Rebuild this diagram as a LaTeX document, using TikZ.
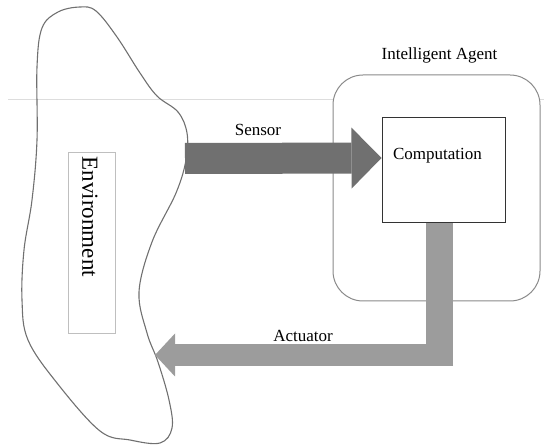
\documentclass[tikz,border=0pt]{standalone}
\usepackage{fontspec}
\setmainfont{Liberation Serif}
\usetikzlibrary{arrows.meta,calc}
\definecolor{blobline}{HTML}{707070}
\definecolor{agentline}{HTML}{8A8A8A}
\definecolor{sensorfill}{HTML}{707070}
\definecolor{actfill}{HTML}{9C9C9C}
\definecolor{guide}{HTML}{DDDDDD}
\tikzset{
  lbl/.style={font=\fontsize{17}{20}\selectfont, inner sep=0pt},
  agentbox/.style={draw=agentline, line width=1pt, fill=white, rounded corners=30pt},
  compbox/.style={draw=black!80, line width=1pt, fill=white},
  envbox/.style={draw=black!25, line width=0.8pt},
  sensorarrow/.style={draw=sensorfill, line width=31pt,
    -{Triangle[length=30pt,width=61pt,line width=0pt]}},
  actbar/.style={draw=actfill, line width=27pt},
  actarrow/.style={draw=actfill, line width=22pt,
    -{Triangle[length=20pt,width=43pt,line width=0pt]}},
}
\begin{document}
\begin{tikzpicture}[x=1pt,y=-1pt]
\useasboundingbox (0,0) rectangle (544,446);
% faint guide line across the page
\draw[guide, line width=1pt] (8,100) -- (544,100);
% environment outline
\draw[blobline, line width=1.1pt] plot[smooth cycle, tension=0.6] coordinates {
  (80,7) (96,11) (117,37) (140,73) (157,96) (178,112) (187,133) (186,160)
  (176,193) (152,242) (139,292) (147,333) (158,362) (169,400) (172,428)
  (160,443) (130,440) (100,431) (57,383) (28,340) (22,300) (24,250)
  (32,200) (37,140) (37,67) (42,28) (58,12)};
\node[envbox, minimum width=47pt, minimum height=181pt, inner sep=0pt] (env) at (91.5,242.5) {};
\node[font=\fontsize{23}{26}\selectfont, rotate=-90, anchor=west, inner sep=0pt]
  (envtext) at ($(env.north)+(-1.5,5)$) {Environment};
% agent
\node[agentbox, minimum width=207pt, minimum height=226pt] (agent) at (436.5,188) {};
\node[lbl, anchor=south] (agentlabel) at ($(agent.north)+(3,-11)$) {Intelligent Agent};
\node[compbox, minimum width=123pt, minimum height=105pt, inner sep=0pt] (comp) at (443.5,170.5) {};
\node[lbl] (comptext) at ($(comp.north)+(-6,38)$) {Computation};
% sensor arrow
\coordinate (sensorout) at (185,158.5);
\coordinate (sensorin) at ($(comp.north west)+(0,40.5)$);
\draw[sensorarrow] (sensorout) -- (sensorin);
\node[lbl] (sensorlabel) at (258,130) {Sensor};
% actuator arrow
\coordinate (actdown) at ($(comp.south)+(-4,0)$);
\coordinate (actcorner) at (439.5,366);
\coordinate (actstart) at (453,355);
\coordinate (actend) at (155,355);
\draw[actbar] (actdown) -- (actcorner);
\draw[actarrow] (actstart) -- (actend);
\node[lbl] (actlabel) at (303,336) {Actuator};
\end{tikzpicture}
\end{document}
